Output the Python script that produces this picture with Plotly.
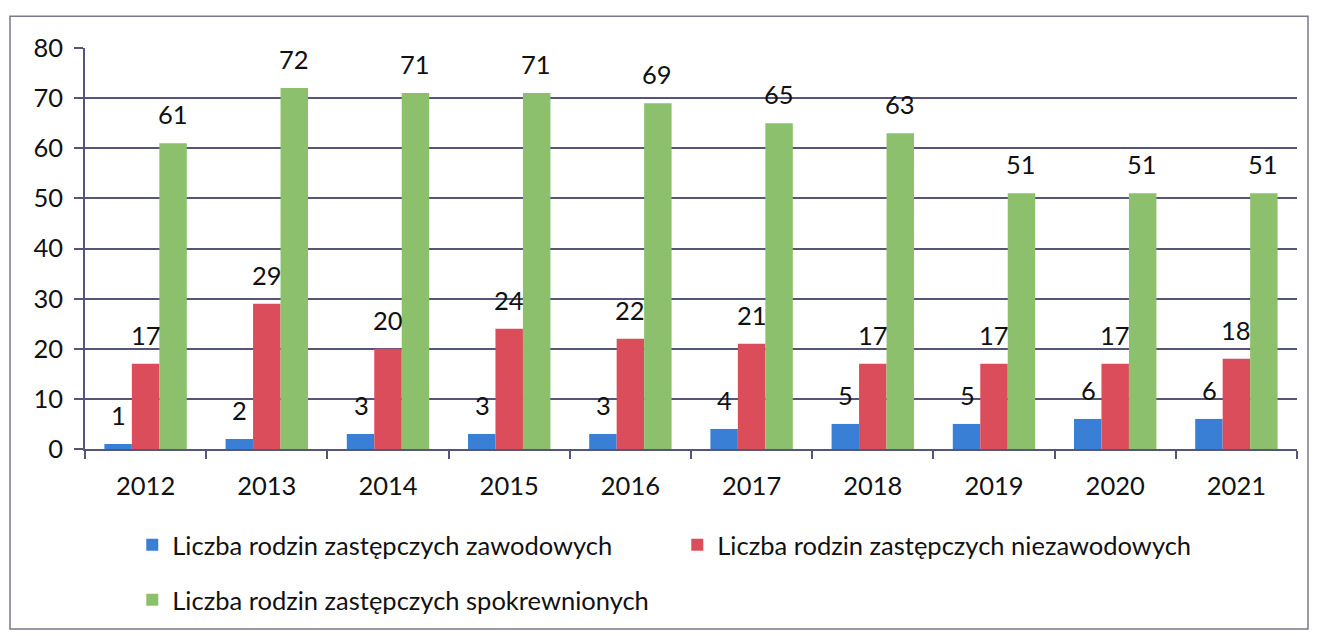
import plotly.graph_objects as go

years = ["2012", "2013", "2014", "2015", "2016", "2017", "2018", "2019", "2020", "2021"]
zawodowe = [1, 2, 3, 3, 3, 4, 5, 5, 6, 6]
niezawodowe = [17, 29, 20, 24, 22, 21, 17, 17, 17, 18]
spokrewnione = [61, 72, 71, 71, 69, 65, 63, 51, 51, 51]
names = [
    "Liczba rodzin zastępczych zawodowych",
    "Liczba rodzin zastępczych niezawodowych",
    "Liczba rodzin zastępczych spokrewnionych",
]
colors = ["#3a7fd6", "#dc4d5b", "#8dc06c"]
series = [zawodowe, niezawodowe, spokrewnione]
legends = ["legend", "legend", "legend2"]

FONT = "Lato, 'Open Sans', sans-serif"
FS = 25.5

fig = go.Figure()
for name, vals, col, lg in zip(names, series, colors, legends):
    fig.add_trace(go.Bar(x=years, y=vals, name=name, marker_color=col,
                         marker_line_width=0, legend=lg))

shifts = [-27, 0, 27]
for vals, sh in zip(series, shifts):
    for i, v in enumerate(vals):
        fig.add_annotation(x=i, y=v, text=str(v), showarrow=False, xref="x", yref="y",
                           xshift=sh, yshift=29, yanchor="middle",
                           font=dict(family=FONT, size=FS, color="#111"))

fig.update_layout(
    width=1317, height=636,
    margin=dict(l=85, r=20, t=48, b=185),
    paper_bgcolor="white", plot_bgcolor="white",
    barmode="group", bargap=0.32, bargroupgap=0,
    font=dict(family=FONT, size=FS, color="#111"),
    showlegend=True,
    legend=dict(orientation="h", x=0.039, xanchor="left", y=-0.24, yanchor="middle",
                entrywidth=500, entrywidthmode="pixels", itemwidth=30,
                font=dict(family=FONT, size=FS, color="#111"), bgcolor="rgba(0,0,0,0)"),
    legend2=dict(orientation="h", x=0.039, xanchor="left", y=-0.377, yanchor="middle",
                 itemwidth=30,
                 font=dict(family=FONT, size=FS, color="#111"), bgcolor="rgba(0,0,0,0)"),
    shapes=[dict(type="rect", xref="paper", yref="paper",
                 x0=-75/1212, x1=(1308-85)/1212, y0=-(632-451)/403, y1=(451-16)/403,
                 line=dict(color="#7a7a8a", width=1.5))],
)
fig.update_yaxes(range=[0, 80], dtick=10, showgrid=True, gridcolor="#55557a", gridwidth=1.5,
                 showline=True, linecolor="#55557a", linewidth=1.5,
                 ticks="outside", ticklen=9, tickcolor="#55557a", tickwidth=1.5,
                 ticklabelstandoff=6,
                 tickfont=dict(family=FONT, size=FS, color="#111"), zeroline=False)
fig.update_xaxes(type="category", range=[-0.5, len(years) - 0.5],
                 showline=True, linecolor="#55557a", linewidth=1.5,
                 ticks="outside", tickson="boundaries", ticklen=8, tickcolor="#55557a",
                 tickwidth=1.5, ticklabelstandoff=14,
                 tickfont=dict(family=FONT, size=FS, color="#111"))

fig.write_html("out.html", config={"displayModeBar": False},
               post_script="document.body.style.margin='0';")
